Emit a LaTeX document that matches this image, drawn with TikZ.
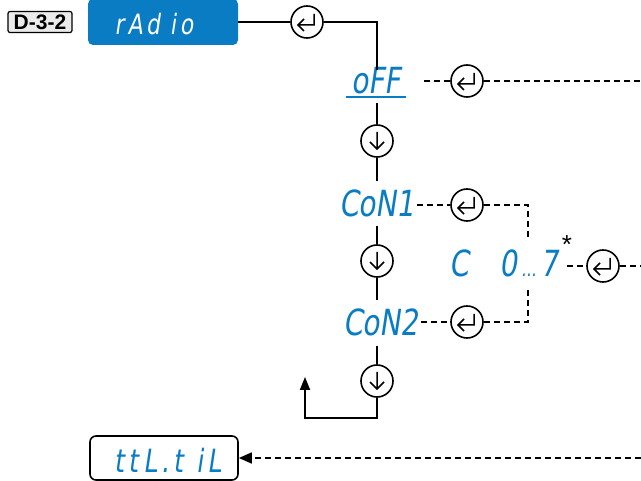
\documentclass[tikz,border=0pt]{standalone}
\usepackage{fontspec}
\usepackage{xcolor}
\usetikzlibrary{arrows.meta,positioning,calc}
\setmainfont{Liberation Sans}
\newfontfamily\segfont{DejaVu Sans}[FakeSlant=0.15,FakeStretch=0.78]
\newfontfamily\segwide{DejaVu Sans}[FakeSlant=0.15,FakeStretch=0.78,LetterSpace=14]
\definecolor{dispblue}{HTML}{0A7CC4}

\begin{document}
\begin{tikzpicture}[
x=1pt, y=-1pt,
seg/.style={
    text=dispblue,
    font=\segfont\fontsize{36}{36}\selectfont,
    inner sep=0pt
},
enterkey/.style={
    draw,
    circle,
    minimum size=32pt,
    inner sep=0pt,
    line width=1.6pt,
    path picture={
        \draw[line width=1.5pt, shift={(path picture bounding box.center)}]
        (7,-8) -- (7,3) -- (-9,3) (-3,-3) -- (-9,3) -- (-3,9);
    }
},
downkey/.style={
    draw,
    circle,
    minimum size=32pt,
    inner sep=0pt,
    line width=1.6pt,
    path picture={
        \draw[line width=1.5pt, shift={(path picture bounding box.center)}]
        (0,-9) -- (0,8) (-7,1) -- (0,8) -- (7,1);
    }
},
solid line/.style={
    line width=1.8pt
},
dash line/.style={
    line width=1.6pt,
    dash pattern=on 6pt off 4pt
}
]
\useasboundingbox (0,0) rectangle (641,481);

\node[draw, fill=black!8, rounded corners=2pt, line width=1.2pt,
      minimum width=64pt, minimum height=21pt, inner sep=1pt,
      font=\bfseries\fontsize{21}{21}\selectfont] (menu) at (40,22) {D-3-2};

\node[fill=dispblue, rounded corners=5pt, minimum width=150pt,
      minimum height=46pt] (radio) at (163,22) {};
\node[text=white, inner sep=0pt, font=\segwide\fontsize{28}{28}\selectfont]
    (radiotext) at (154,24) {rAd\hspace{10pt}io};

\node[enterkey] (enterA) at (307,22) {};
\coordinate (corner) at (377,22);

\node[seg] (off) at (376,81) {oFF};
\draw[dispblue, line width=2.2pt] (346,97) -- (406,97);

\node[downkey] (downA) at (377,141) {};
\node[seg] (con1) at (377,203) {CoN1};
\node[downkey] (downB) at (377,261) {};
\node[seg] (con2) at (381,322) {CoN2};
\node[downkey] (downC) at (377,381) {};
\coordinate (back) at (305,418);
\coordinate (backtop) at (305,377);

\node[enterkey] (enterB) at (467,81) {};
\coordinate (offend) at (641,81);

\node[enterkey] (enterC) at (467,205) {};
\node[enterkey] (enterD) at (467,322) {};
\coordinate (joinA) at (528,205);
\coordinate (joinB) at (528,322);

\node[seg] (rangeC) at (459,263) {C};
\node[seg] (rangelow) at (508,263) {0};
\node[seg, font=\segfont\fontsize{20}{20}\selectfont, anchor=base west]
    (rangedots) at ([xshift=4pt]rangelow.base east) {...};
\node[seg, anchor=base west] (rangehigh) at ([xshift=4pt]rangedots.base east) {7};
\node[font=\fontsize{26}{26}\selectfont, inner sep=0pt] (star) at (567,245) {*};
\node[enterkey] (enterE) at (603,266) {};
\coordinate (rangeend) at (641,266);

\node[draw, rounded corners=6pt, line width=1.6pt, fill=white,
      minimum width=148pt, minimum height=44pt] (ttl) at (164,458) {};
\node[seg, font=\segwide\fontsize{32}{32}\selectfont] (ttltext) at (168,460) {ttL.t iL};
\coordinate (ttlend) at (641,458);

% main chain
\draw[solid line] (radio) -- (enterA);
\draw[solid line] (enterA) -- (corner) -- (377,70);
\draw[solid line] (377,103) -- (downA);
\draw[solid line] (downA) -- (377,181);
\draw[solid line] (377,226) -- (downB);
\draw[solid line] (downB) -- (377,300);
\draw[solid line] (377,346) -- (downC);
\draw[solid line, -{Triangle[length=13pt,width=10pt]}]
    (downC) -- (377,418) -- (back) -- (backtop);

% selections
\draw[dash line] (424,81) -- (enterB);
\draw[dash line] (enterB) -- (offend);
\draw[dash line] (con1.east) ++(2,2) -- (enterC);
\draw[dash line] (enterC) -- (joinA) -- (528,238);
\draw[dash line] (con2.east) ++(2,0) -- (enterD);
\draw[dash line] (enterD) -- (joinB) -- (528,290);
\draw[dash line] (567,266) -- (enterE);
\draw[dash line] (enterE) -- (rangeend);
\draw[dash line, -{Triangle[length=13pt,width=11pt]}] (ttlend) -- (ttl);

\end{tikzpicture}
\end{document}
